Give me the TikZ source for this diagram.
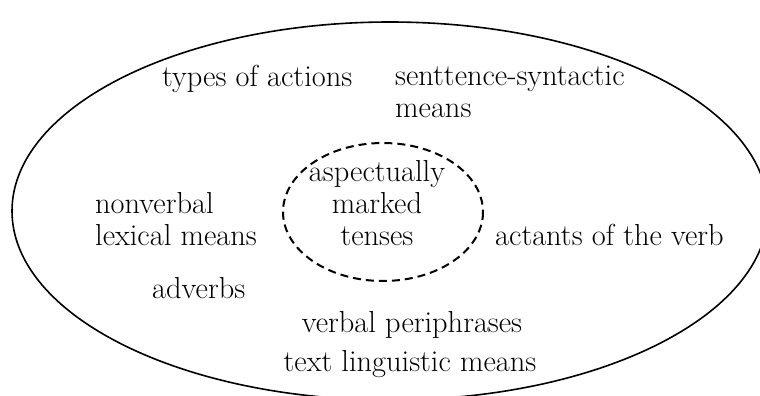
\documentclass[tikz,border=0pt]{standalone}
\usepackage{fontspec}
\begin{document}
\begin{tikzpicture}[x=1pt,y=-1pt,
  lbl/.style={inner sep=0pt, font=\fontsize{30.4}{32}\selectfont},
  outerell/.style={draw, line width=1.6pt},
  innerell/.style={draw, line width=2pt, dash pattern=on 8pt off 5pt}]
\clip (0,0) rectangle (760,396);
\fill[white] (0,0) rectangle (760,396);
\draw[outerell] (390,211) ellipse [x radius=378, y radius=189];
\draw[innerell] (383,212) ellipse [x radius=100, y radius=69];
\node[lbl, anchor=base west] (types) at (162,86) {types of actions};
\node[lbl, anchor=base west, align=left] (sent) at (395,117) {senttence-syntactic\\means};
\node[lbl, anchor=base, align=center] (asp) at (377,245) {aspectually\\marked\\tenses};
\node[lbl, anchor=base west, align=left] (nonverbal) at (95,245) {nonverbal\\lexical means};
\node[lbl, anchor=base west] (adverbs) at (152,298) {adverbs};
\node[lbl, anchor=base west] (actants) at (495,245) {actants of the verb};
\node[lbl, anchor=base] (verbal) at (412,332) {verbal periphrases};
\node[lbl, anchor=base] (textling) at (410,371) {text linguistic means};
\end{tikzpicture}
\end{document}
